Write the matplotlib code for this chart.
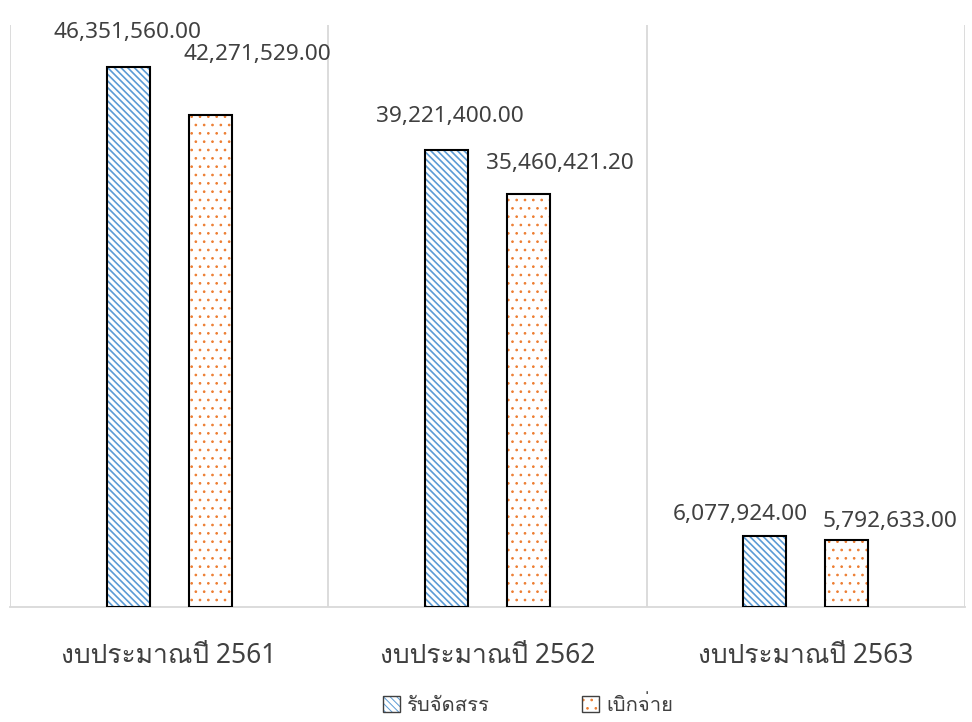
import numpy as np
import matplotlib
matplotlib.use("Agg")
import matplotlib.pyplot as plt
from matplotlib import font_manager
from matplotlib.ft2font import FT2Font
from matplotlib.patches import Patch

# ---------------- data ----------------
categories = ["งบประมาณปี 2561", "งบประมาณปี 2562", "งบประมาณปี 2563"]
series_names = ["รับจัดสรร", "เบิกจ่าย"]
allocated = [46351560.00, 39221400.00, 6077924.00]
disbursed = [42271529.00, 35460421.20, 5792633.00]

# label offsets (pixels, relative to bar top centre) - layout only
alloc_label_off = [(-1, 29), (3, 28), (-24, 16)]
disb_label_off = [(47, 55), (31, 25), (43, 13)]

# ---------------- fonts ----------------
def find_thai_font():
    for f in font_manager.fontManager.ttflist:
        try:
            cm = FT2Font(f.fname).get_charmap()
            if 0x0E07 in cm and 0x0E1A in cm:
                return f.name
        except Exception:
            pass
    return None

thai = find_thai_font()
fams = ["Noto Sans"]
if thai:
    fams.append(thai)
fams.append("DejaVu Sans")
plt.rcParams["font.family"] = fams

blue = "#5B9BD5"
orange = "#ED7D31"
text_col = "#404040"
grid_col = "#D9D9D9"

fig = plt.figure(figsize=(9.72, 7.22), dpi=100)
ax = fig.add_axes([10/972, 1-607/722, (965-10)/972, (607-25)/722])

x = np.arange(len(categories))
w = 0.135
off = 0.129

plt.rcParams["hatch.linewidth"] = 1.2
b1h = ax.bar(x - off, allocated, w, facecolor="white", edgecolor=blue, hatch="\\\\\\\\\\", linewidth=0, zorder=2)
leg_h1 = Patch(facecolor="white", edgecolor=blue, hatch="\\\\\\\\\\", linewidth=0)
plt.rcParams["hatch.linewidth"] = 0.7
b2h = ax.bar(x + off, disbursed, w, facecolor="white", edgecolor=orange, hatch="..", linewidth=0, zorder=2)
leg_h2 = Patch(facecolor="white", edgecolor=orange, hatch="..", linewidth=0)
b1 = ax.bar(x - off, allocated, w, fill=False, edgecolor="black", linewidth=1.5, zorder=3)
b2 = ax.bar(x + off, disbursed, w, fill=False, edgecolor="black", linewidth=1.5, zorder=3)

for rects, vals, offs in ((b1, allocated, alloc_label_off), (b2, disbursed, disb_label_off)):
    for rect, v, (dx, dy) in zip(rects, vals, offs):
        ax.annotate(f"{v:,.2f}", (rect.get_x() + rect.get_width()/2, rect.get_height()),
                    xytext=(dx, dy), textcoords="offset pixels", ha="center", va="baseline",
                    fontsize=16.3, color=text_col, annotation_clip=False)

ax.set_xlim(-0.5, len(categories) - 0.5)
ax.set_ylim(0, 50000000)
ax.set_yticks([])
ax.set_xticks(x)
ax.set_xticklabels(categories, fontsize=19, color=text_col)
ax.tick_params(axis="x", length=0, pad=25)
ax.set_xticks(np.arange(len(categories) + 1) - 0.5, minor=True)
ax.tick_params(axis="x", which="minor", length=0)
ax.grid(True, axis="x", which="minor", color=grid_col, linewidth=1.3, zorder=0)
for s in ["top", "left", "right"]:
    ax.spines[s].set_visible(False)
ax.spines["bottom"].set_color(grid_col)
ax.spines["bottom"].set_linewidth(1.3)

handles = [(leg_h1, Patch(fill=False, edgecolor="#404040", linewidth=1.0)),
           (leg_h2, Patch(fill=False, edgecolor="#404040", linewidth=1.0))]
leg = fig.legend(handles, series_names, loc="center", bbox_to_anchor=(528/972, 1-706/722),
                 ncol=2, frameon=False, handlelength=0.85, handleheight=0.85,
                 columnspacing=4.6, handletextpad=0.35,
                 prop={"size": 14.5})
for t in leg.get_texts():
    t.set_color(text_col)

fig.savefig("out.png", dpi=100)
